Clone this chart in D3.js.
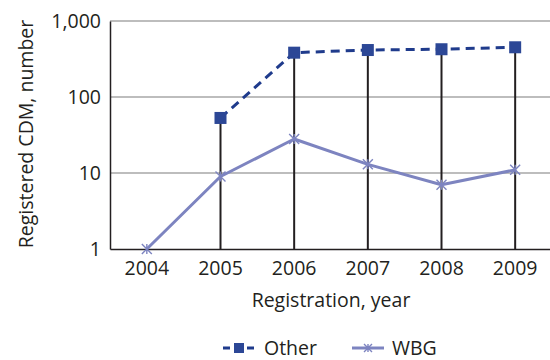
<!DOCTYPE html>
<html>
<head>
<meta charset="utf-8">
<script src="https://cdn.jsdelivr.net/npm/d3@7"></script>
<style>
  html, body { margin: 0; padding: 0; background: #fff; }
  text { font-family: "Open Sans", "Noto Sans", sans-serif; fill: #231f20; }
</style>
</head>
<body>
<svg id="chart" width="550" height="360"></svg>
<script>
// Registered CDM projects per year, log scale
const years = ["2004", "2005", "2006", "2007", "2008", "2009"];
const otherValues = [null, 53, 383, 415, 425, 451];
const wbgValues = [1, 9, 28, 13, 7, 11];
const yTicks = [1, 10, 100, 1000];
const seriesNames = ["Other", "WBG"];

const svg = d3.select("#chart");
const margin = { left: 110, right: -2, top: 21, bottom: 111 };
const W = 550, H = 360;
const innerW = W - margin.left - margin.right;
const innerH = H - margin.top - margin.bottom;
const fs = 19.5;

const g = svg.append("g").attr("transform", `translate(${margin.left},${margin.top})`);

const x = d3.scaleBand().domain(years).range([0, innerW]);
const cx = d => x(d) + x.bandwidth() / 2;
const y = d3.scaleLog().domain([1, 1000]).range([innerH, 0]);

// gridlines
g.append("g").selectAll("line").data(yTicks.slice(1)).join("line")
  .attr("x1", 0).attr("x2", innerW)
  .attr("y1", d => y(d)).attr("y2", d => y(d))
  .attr("stroke", "#a7a7a7").attr("stroke-width", 1.3);

// y axis
const yAxis = d3.axisLeft(y).tickValues(yTicks).tickFormat(d3.format(",")).tickSize(0).tickPadding(9);
const ya = g.append("g").call(yAxis);
ya.select(".domain").attr("stroke", "#231f20").attr("stroke-width", 1.5);
ya.selectAll("text").attr("font-size", fs).attr("dy", "0.35em");

// x axis
const xAxis = d3.axisBottom(x).tickSize(0).tickPadding(12);
const xa = g.append("g").attr("transform", `translate(0,${innerH})`).call(xAxis);
xa.select(".domain").attr("stroke", "#231f20").attr("stroke-width", 1.5);
xa.selectAll("text").attr("font-size", fs);

// drop lines from the upper series to the axis
const otherPts = years.map((yr, i) => ({ yr, v: otherValues[i] })).filter(d => d.v != null);
g.append("g").selectAll("line").data(otherPts).join("line")
  .attr("x1", d => cx(d.yr)).attr("x2", d => cx(d.yr))
  .attr("y1", innerH).attr("y2", d => y(d.v))
  .attr("stroke", "#231f20").attr("stroke-width", 2);

// WBG line
const wbgPts = years.map((yr, i) => ({ yr, v: wbgValues[i] }));
const line = d3.line().x(d => cx(d.yr)).y(d => y(d.v));
const wbgColor = "#7d84c0";
g.append("path").datum(wbgPts).attr("d", line)
  .attr("fill", "none").attr("stroke", wbgColor).attr("stroke-width", 3).attr("stroke-linejoin", "round");

function star(sel, size, color) {
  const s = size / 2;
  sel.append("path")
    .attr("d", `M${-s},${-s}L${s},${s}M${-s},${s}L${s},${-s}M0,${-s}L0,${s}`)
    .attr("stroke", color).attr("stroke-width", 1.4).attr("fill", "none");
}
g.append("g").selectAll("g").data(wbgPts).join("g")
  .attr("transform", d => `translate(${cx(d.yr)},${y(d.v)})`)
  .each(function () { star(d3.select(this), 10, wbgColor); });

// Other line
const otherColor = "#1f3b8c";
g.append("path").datum(otherPts).attr("d", line)
  .attr("fill", "none").attr("stroke", otherColor).attr("stroke-width", 3)
  .attr("stroke-dasharray", "9,6");
g.append("g").selectAll("rect").data(otherPts).join("rect")
  .attr("x", d => cx(d.yr) - 6).attr("y", d => y(d.v) - 6)
  .attr("width", 12).attr("height", 12).attr("fill", "#2c4796");

// axis titles
svg.append("text").attr("transform", "translate(33,134) rotate(-90)")
  .attr("text-anchor", "middle").attr("font-size", fs).text("Registered CDM, number");
svg.append("text").attr("x", 331).attr("y", 307)
  .attr("text-anchor", "middle").attr("font-size", fs).text("Registration, year");

// legend
const lg = svg.append("g").attr("transform", "translate(0,348)");
lg.append("line").attr("x1", 223).attr("x2", 256).attr("y1", 0).attr("y2", 0)
  .attr("stroke", otherColor).attr("stroke-width", 3).attr("stroke-dasharray", "7,5");
lg.append("rect").attr("x", 234).attr("y", -5).attr("width", 10).attr("height", 10).attr("fill", "#2c4796");
lg.append("text").attr("x", 264).attr("y", 0).attr("dy", "0.35em").attr("font-size", fs).text(seriesNames[0]);
lg.append("line").attr("x1", 352).attr("x2", 384).attr("y1", 0).attr("y2", 0)
  .attr("stroke", wbgColor).attr("stroke-width", 3);
const lstar = lg.append("g").attr("transform", "translate(368,0)");
star(lstar, 8, wbgColor);
lg.append("text").attr("x", 392).attr("y", 0).attr("dy", "0.35em").attr("font-size", fs).text(seriesNames[1]);
</script>
</body>
</html>
